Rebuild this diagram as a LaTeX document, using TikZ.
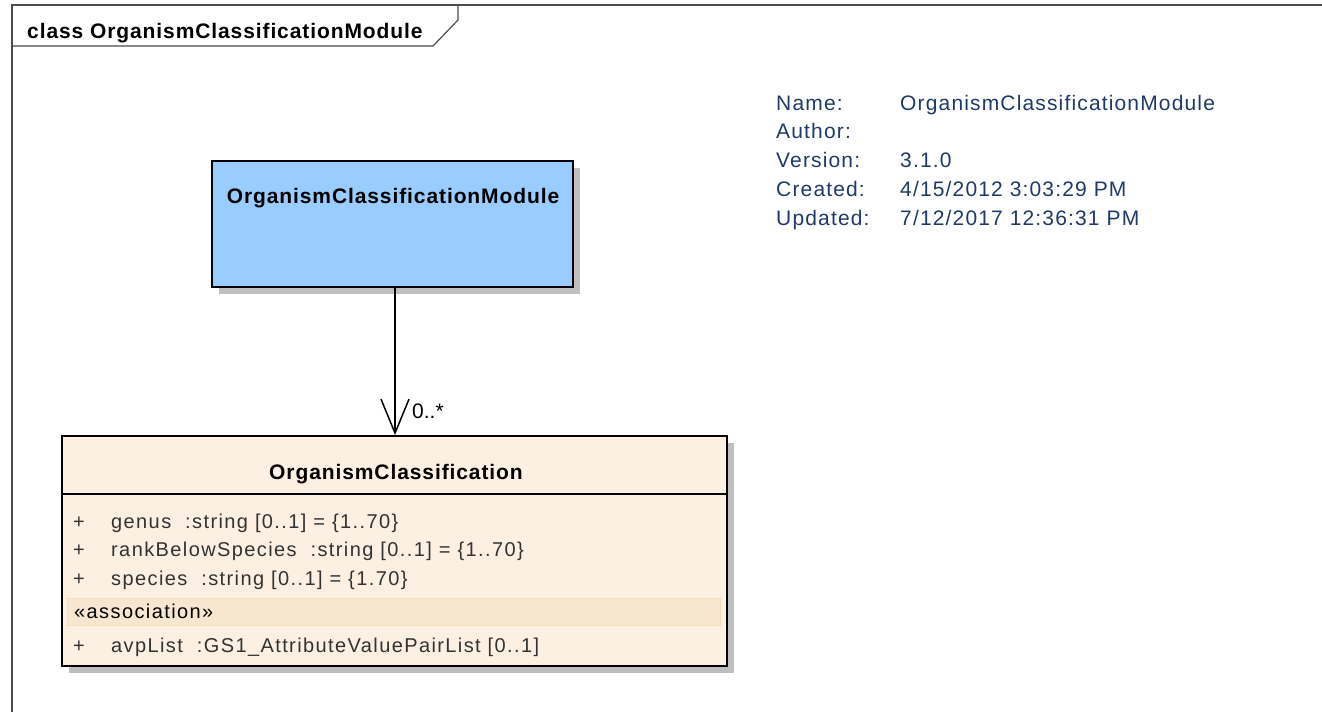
\documentclass[tikz,border=0pt]{standalone}
\usepackage{fontspec}
\setmainfont{Liberation Sans}
\newfontfamily\umltitlefont[LetterSpace=4.3]{Liberation Sans}
\newfontfamily\umlattrfont[LetterSpace=7]{Liberation Sans}
\newfontfamily\umlinfofont[LetterSpace=5.5]{Liberation Sans}
\usetikzlibrary{arrows.meta,shadows}
\definecolor{modblue}{HTML}{99CCFF}
\definecolor{classbeige}{HTML}{FBF0E2}
\definecolor{assocband}{HTML}{F8E7D0}
\definecolor{infonavy}{HTML}{1F3A68}
\newcommand\umlbig{\fontsize{21}{25}\selectfont}
\newcommand\umlattr{\fontsize{20}{24}\selectfont}

\begin{document}
\begin{tikzpicture}[x=1pt, y=-1pt,
    umlbox/.style={draw=black, line width=1.8pt, inner sep=0pt,
      drop shadow={shadow xshift=7pt, shadow yshift=-7pt, fill=black!25, opacity=1}},
    titletext/.style={font=\umltitlefont\umlbig\bfseries, inner sep=0pt, anchor=base},
    attrtext/.style={font=\umlattrfont\umlattr, text=black!80, inner sep=0pt, anchor=base west},
    infotext/.style={font=\umlinfofont\umlbig, text=infonavy, inner sep=0pt, anchor=base west},
    frameline/.style={draw=black!70, line width=1.2pt}]
    \useasboundingbox (0,0) rectangle (1322,712);

    % Diagram frame with its name tab
    \draw[frameline] (1322,5) -- (12,5) -- (12,712);
    \draw[frameline] (12,46) -- (433,46) -- (458,20) -- (458,5);
    \node[titletext, anchor=base west] (frametitle) at (27,38) {class OrganismClassificationModule};

    % Module class
    \node[umlbox, fill=modblue, minimum width=361pt, minimum height=126pt] (module) at (392.5,224) {};
    \node[titletext] (moduletitle) at (393,203) {OrganismClassificationModule};

    % Classification class
    \node[umlbox, fill=classbeige, minimum width=665pt, minimum height=230pt] (classbox) at (394.5,551) {};
    \node[titletext] (classtitle) at (396,479) {OrganismClassification};
    \draw[line width=1.8pt] (classbox.west |- 0,494) coordinate (sepl) -- (classbox.east |- sepl);
    \fill[assocband, draw=assocband!90!orange] (67,598) rectangle (720,625);

    % Attributes
    \node[attrtext] (plus1) at (73,528) {+};
    \node[attrtext] (attr1) at (111,528) {genus\ \ :string [0..1] = \{1..70\}};
    \node[attrtext] (plus2) at (73,556) {+};
    \node[attrtext] (attr2) at (111,556) {rankBelowSpecies\ \ :string [0..1] = \{1..70\}};
    \node[attrtext] (plus3) at (73,585) {+};
    \node[attrtext] (attr3) at (111,585) {species\ \ :string [0..1] = \{1.70\}};
    \node[attrtext, text=black] (stereo) at (74,618) {«association»};
    \node[attrtext] (plus4) at (73,652) {+};
    \node[attrtext] (attr4) at (111,652) {avpList\ \ :GS1\_AttributeValuePairList [0..1]};

    % Association with open arrow
    \draw[line width=1.5pt, -{Straight Barb[length=34pt, width=28pt, line width=1.5pt]}]
        (module.south -| 395,0) -- (classbox.north -| 395,0);
    \node[font=\umlbig, inner sep=0pt, anchor=base west] (mult) at (412,418) {0..*};

    % Package info
    \node[infotext] (namekey) at (776,110) {Name:};
    \node[infotext] (nameval) at (900,110) {OrganismClassificationModule};
    \node[infotext] (authorkey) at (776,138) {Author:};
    \node[infotext] (versionkey) at (776,167) {Version:};
    \node[infotext] (versionval) at (900,167) {3.1.0};
    \node[infotext] (createdkey) at (776,196) {Created:};
    \node[infotext] (createdval) at (900,196) {4/15/2012 3:03:29 PM};
    \node[infotext] (updatedkey) at (776,225) {Updated:};
    \node[infotext] (updatedval) at (900,225) {7/12/2017 12:36:31 PM};
\end{tikzpicture}
\end{document}
